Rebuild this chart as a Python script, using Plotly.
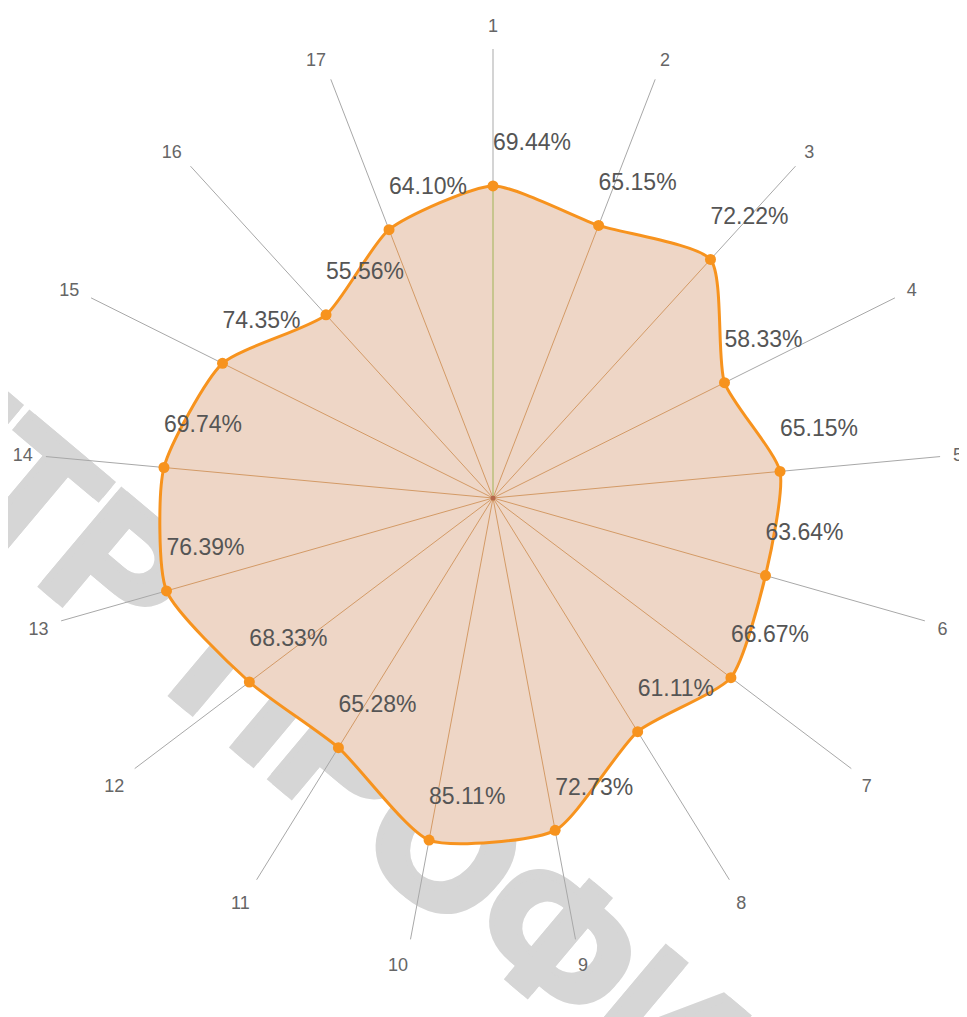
import plotly.graph_objects as go

# Data
categories = [str(i) for i in range(1, 18)]
# radial positions of the plotted points (% scale 0-100)
plot_values = [69.5, 65.1, 71.9, 57.6, 64.2, 63.1, 66.4, 61.2, 75.3, 77.5,
               65.4, 68.0, 75.6, 73.6, 67.3, 55.2, 64.1]
# data labels printed next to the points
label_texts = ["69.44%", "65.15%", "72.22%", "58.33%", "65.15%", "63.64%", "66.67%",
               "61.11%", "72.73%", "85.11%", "65.28%", "68.33%", "76.39%", "69.74%",
               "74.35%", "55.56%", "64.10%"]
radial_max = 100
watermark_text = "ЦЕНТР ПРОФИ"

W, H = 967, 1017
OFF = 8  # the page body margin shifts the figure by 8 px
cx, cy, R = 493 - OFF, 498 - OFF, 449


def px(x):
    return (x - OFF) / W


def py(y):
    return 1 - (y - OFF) / H


theta_closed = categories + [categories[0]]
r_closed = plot_values + [plot_values[0]]

fig = go.Figure()

# filled area with smooth outline
fig.add_trace(go.Scatterpolar(
    r=r_closed, theta=theta_closed, mode="lines",
    line=dict(color="#f7931e", width=3, shape="spline", smoothing=0.6),
    fill="toself", fillcolor="#eed6c6", hoverinfo="skip", showlegend=False))

# spokes inside the area (drawn above the opaque fill)
sr, st = [], []
for c, v in zip(categories[1:], plot_values[1:]):
    sr += [0, v, None]
    st += [c, c, None]
fig.add_trace(go.Scatterpolar(r=sr, theta=st, mode="lines",
                              line=dict(color="#d39a66", width=1),
                              hoverinfo="skip", showlegend=False))
# first spoke: light grey full length, greenish inside the area
fig.add_trace(go.Scatterpolar(r=[plot_values[0], radial_max], theta=[categories[0]] * 2,
                              mode="lines", line=dict(color="#d4d4d4", width=2),
                              hoverinfo="skip", showlegend=False))
fig.add_trace(go.Scatterpolar(r=[0, plot_values[0]], theta=[categories[0]] * 2,
                              mode="lines", line=dict(color="#c7c58e", width=2),
                              hoverinfo="skip", showlegend=False))

# points
fig.add_trace(go.Scatterpolar(
    r=plot_values, theta=categories, mode="markers",
    marker=dict(color="#f7931e", size=11, symbol="circle"),
    hoverinfo="skip", showlegend=False))

# data labels
fig.add_trace(go.Scatterpolar(
    r=plot_values, theta=categories, mode="text",
    text=[t + "<br> " for t in label_texts], textposition="top right",
    textfont=dict(family="Liberation Sans, Arial", size=23, color="#555555"),
    hoverinfo="skip", showlegend=False))

# centre dot
fig.add_trace(go.Scatterpolar(r=[0], theta=[categories[0]], mode="markers",
                              marker=dict(color="#b5684a", size=5),
                              hoverinfo="skip", showlegend=False))

# watermark below the chart (a few slightly offset copies give heavy strokes)
wx, wy, L = 153, 709, 800
ux, uy = 0.766, 0.643      # along the baseline
vx, vy = -0.643, 0.766     # perpendicular
for a, b in [(-3, -3), (4, -3), (-3, 4), (4, 4)]:
    ox = wx + a * ux + b * vx
    oy = wy + a * uy + b * vy
    fig.add_shape(type="line", xref="paper", yref="paper", layer="below",
                  x0=px(ox - L * ux), y0=py(oy - L * uy),
                  x1=px(ox + L * ux), y1=py(oy + L * uy),
                  line=dict(color="rgba(0,0,0,0)", width=0),
                  label=dict(text="<b>" + watermark_text + "</b>", textangle=40,
                             textposition="middle",
                             font=dict(family="Liberation Sans, Arial", size=180,
                                       color="#d6d6d6")))

fig.update_layout(
    width=W, height=H,
    margin=dict(l=0, r=0, t=0, b=0),
    paper_bgcolor="white",
    polar=dict(
        domain=dict(x=[(cx - R) / W, (cx + R) / W], y=[(H - cy - R) / H, (H - cy + R) / H]),
        bgcolor="rgba(0,0,0,0)",
        radialaxis=dict(visible=False, range=[0, radial_max]),
        angularaxis=dict(direction="clockwise", rotation=90, showline=False,
                         showgrid=True, gridcolor="#a8a8a8", gridwidth=1,
                         ticks="outside", ticklen=9, tickcolor="rgba(0,0,0,0)",
                         tickfont=dict(family="Liberation Sans, Arial", size=18, color="#666666")),
    ),
    font=dict(family="Liberation Sans, Arial"),
)

fig.write_html("out.html")
